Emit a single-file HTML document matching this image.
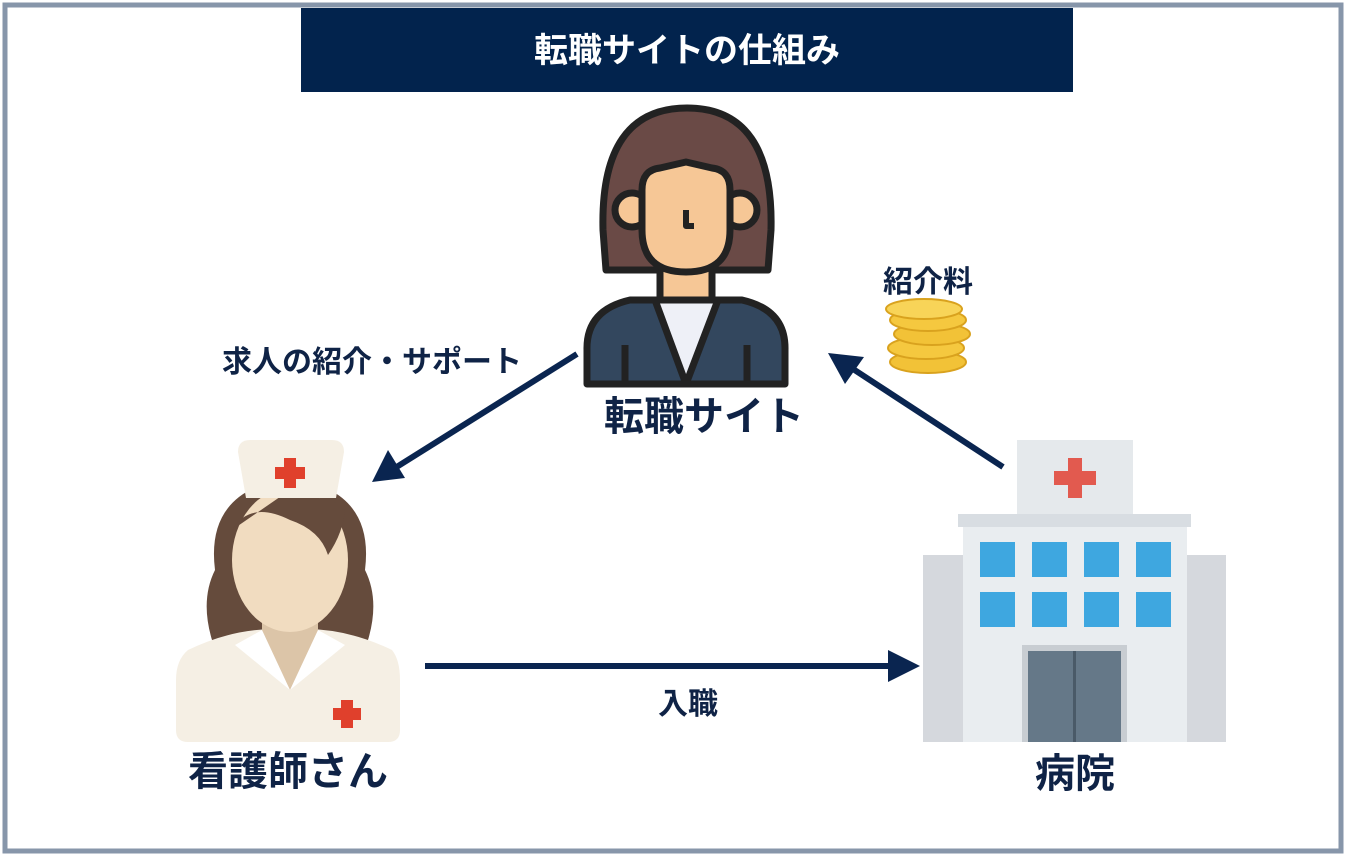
<!DOCTYPE html>
<html><head><meta charset="utf-8"><style>
html,body{margin:0;padding:0;background:#fff;}
body{width:1348px;height:860px;overflow:hidden;font-family:"Liberation Sans","Noto Sans CJK JP",sans-serif;}
</style></head><body>
<svg width="1348" height="860" viewBox="0 0 1348 860" xmlns="http://www.w3.org/2000/svg" font-family="Liberation Sans, Noto Sans CJK JP, sans-serif">
<rect x="5" y="5" width="1336" height="846" fill="#fff" stroke="#8796aa" stroke-width="5"/>
<rect x="301" y="8" width="772" height="84" fill="#02234d"/>
<text x="687" y="62" fill="#fff" font-size="34" font-weight="bold" text-anchor="middle">転職サイトの仕組み</text>

<!-- top woman -->
<g stroke="#222" stroke-width="7" stroke-linejoin="round">
<path d="M603 230 Q600 108 687 108 Q774 108 771 230 L768 270 L606 270 Z" fill="#6a4a46"/>
<path d="M630 300 Q586 310 587 350 L587 384 L785 384 L785 350 Q786 310 742 300 Z" fill="#33475e"/>
<path d="M655 300 L686 384 L718 300 Z" fill="#eef0f7"/>
<rect x="660" y="250" width="52" height="50" fill="#f6c796"/>
<circle cx="632" cy="210" r="17" fill="#f6c796"/>
<circle cx="740" cy="210" r="17" fill="#f6c796"/>
<path d="M642 190 Q642 170 660 168 L686 162 L712 168 Q730 170 730 190 L730 230 Q730 272 686 272 Q642 272 642 230 Z" fill="#f6c796"/>
<path d="M686 210 L686 226 L694 226" fill="none" stroke-width="6"/>
<path d="M625 345 L625 384 M747 345 L747 384" fill="none"/>
</g>
<text x="704" y="430" fill="#0f2346" font-size="40" font-weight="bold" text-anchor="middle">転職サイト</text>

<!-- nurse -->
<path d="M212 640 Q200 600 215 570 Q205 490 290 478 Q375 490 365 570 Q380 600 368 640 Z" fill="#654b3c"/>
<path d="M188 650 Q240 625 290 630 Q340 625 392 650 Q400 660 400 680 L400 730 Q400 742 388 742 L188 742 Q176 742 176 730 L176 680 Q176 660 188 650 Z" fill="#f5efe4"/>
<path d="M262 610 L318 610 L318 640 L290 690 L262 640 Z" fill="#dcc5a8"/>
<path d="M235 645 L262 630 L290 690 Z M345 645 L318 630 L290 690 Z" fill="#fff"/>
<ellipse cx="290" cy="560" rx="58" ry="72" fill="#f1dcc0"/>
<path d="M232 530 Q250 500 290 520 Q320 530 328 555 Q345 530 345 505 L290 490 Z" fill="#654b3c"/>
<path d="M238 452 Q238 440 250 440 L332 440 Q344 440 344 452 L336 498 L246 498 Z" fill="#f5efe4"/>
<path d="M284 458 h12 v9 h9 v12 h-9 v9 h-12 v-9 h-9 v-12 h9 z" fill="#e0402c"/>
<path d="M341 700 h12 v8 h8 v12 h-8 v8 h-12 v-8 h-8 v-12 h8 z" fill="#e0402c"/>
<text x="288" y="785" fill="#0f2346" font-size="40" font-weight="bold" text-anchor="middle">看護師さん</text>

<!-- hospital -->
<rect x="923" y="555" width="40" height="187" fill="#d5d8dd"/>
<rect x="1187" y="555" width="39" height="187" fill="#d5d8dd"/>
<rect x="963" y="525" width="224" height="217" fill="#e9edf0"/>
<rect x="1017" y="440" width="116" height="75" fill="#e5e9ec"/>
<rect x="958" y="514" width="233" height="13" fill="#d8dde2"/>
<path d="M1068 458 h14 v13 h14 v14 h-14 v13 h-14 v-13 h-14 v-14 h14 z" fill="#e25a4f"/>
<g fill="#3ea7e0">
<rect x="980" y="542" width="35" height="35"/><rect x="1032" y="542" width="35" height="35"/><rect x="1084" y="542" width="35" height="35"/><rect x="1136" y="542" width="35" height="35"/>
<rect x="980" y="592" width="35" height="35"/><rect x="1032" y="592" width="35" height="35"/><rect x="1084" y="592" width="35" height="35"/><rect x="1136" y="592" width="35" height="35"/>
</g>
<rect x="1022" y="645" width="105" height="97" fill="#c8cdd2"/>
<rect x="1028" y="651" width="93" height="91" fill="#657888"/>
<line x1="1074.5" y1="651" x2="1074.5" y2="742" stroke="#4a5a68" stroke-width="3"/>
<text x="1075" y="787" fill="#0f2346" font-size="40" font-weight="bold" text-anchor="middle">病院</text>

<!-- coins -->
<g stroke="#d9a21e" stroke-width="2">
<ellipse cx="928" cy="362" rx="38" ry="11" fill="#f2c237"/>
<ellipse cx="926" cy="348" rx="38" ry="11" fill="#f5c83f"/>
<ellipse cx="932" cy="334" rx="38" ry="11" fill="#f2c237"/>
<ellipse cx="928" cy="320" rx="38" ry="11" fill="#f5c83f"/>
<ellipse cx="924" cy="309" rx="38" ry="10" fill="#f8d458"/>
</g>
<text x="928" y="292" fill="#0f2346" font-size="30" font-weight="bold" text-anchor="middle">紹介料</text>

<!-- arrows -->
<g stroke="#0a2550" stroke-width="6" fill="#0a2550">
<line x1="577" y1="354" x2="395" y2="468"/>
<line x1="1003" y1="467" x2="850" y2="367"/>
<line x1="425" y1="666" x2="895" y2="666"/>
</g>
<g fill="#0a2550">
<polygon points="372,482 388,450 405,478"/>
<polygon points="828,353 864,357 845,384"/>
<polygon points="920,666 888,650 888,682"/>
</g>
<text x="372" y="372" fill="#0f2346" font-size="30" font-weight="bold" text-anchor="middle">求人の紹介・サポート</text>
<text x="688" y="714" fill="#0f2346" font-size="30" font-weight="bold" text-anchor="middle">入職</text>
</svg>
</body></html>
